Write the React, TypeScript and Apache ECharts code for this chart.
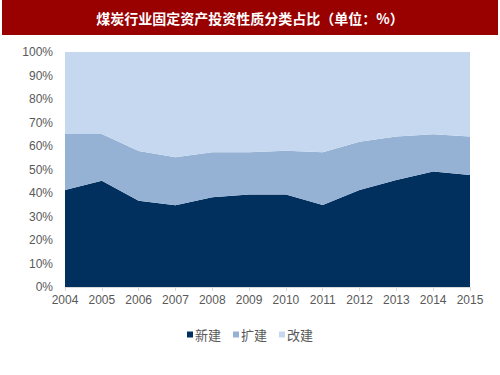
import React, { useEffect, useRef } from "react";
import * as echarts from "echarts";

const years = ["2004", "2005", "2006", "2007", "2008", "2009", "2010", "2011", "2012", "2013", "2014", "2015"];
const newBuild = [41.3, 45.2, 36.7, 34.8, 38.2, 39.4, 39.4, 34.9, 41.3, 45.5, 49.1, 47.7];
const expand = [23.8, 19.9, 21.2, 20.4, 19.1, 17.9, 18.6, 22.4, 20.5, 18.5, 15.9, 16.3];
const rebuild = [34.9, 34.9, 42.1, 44.8, 42.7, 42.7, 42.0, 42.7, 38.2, 36.0, 35.0, 36.0];
const seriesNames = ["新建", "扩建", "改建"];
const colors = ["#01305f", "#95b1d4", "#c6d8ef"];
const titleText = "煤炭行业固定资产投资性质分类占比（单位：%）";

export default function App() {
  const ref = useRef<HTMLDivElement>(null);
  useEffect(() => {
    if (!ref.current) return;
    const chart = echarts.init(ref.current, undefined, { renderer: "svg" });
    const data = [newBuild, expand, rebuild];
    chart.setOption({
      animation: false,
      backgroundColor: "#ffffff",
      color: colors,
      textStyle: { fontFamily: "'Noto Sans CJK SC', 'Liberation Sans', Arial, sans-serif" },
      graphic: [
        {
          type: "rect",
          shape: { x: 2, y: 0, width: 496, height: 35 },
          style: { fill: "#990000" },
          silent: true,
        },
        {
          type: "text",
          x: 250,
          y: 18,
          style: {
            text: titleText,
            fill: "#ffffff",
            fontSize: 14,
            fontWeight: "bold",
            fontFamily: "'Noto Sans CJK SC', sans-serif",
            align: "center",
            verticalAlign: "middle",
          },
          silent: true,
        },
      ],
      grid: { left: 65, right: 30, top: 52, bottom: 88, containLabel: false },
      legend: {
        data: seriesNames,
        bottom: 29,
        left: "center",
        icon: "rect",
        itemWidth: 6,
        itemHeight: 6,
        itemGap: 12,
        textStyle: { color: "#595959", fontSize: 13, padding: [0, 0, 0, -3], fontFamily: "'Noto Sans CJK SC', sans-serif" },
      },
      xAxis: {
        type: "category",
        data: years,
        boundaryGap: false,
        axisLine: { show: true, lineStyle: { color: "#d9d9d9" } },
        axisTick: { show: true, length: 4, lineStyle: { color: "#d9d9d9" } },
        axisLabel: { color: "#595959", fontSize: 12, margin: 7, fontFamily: "'Liberation Sans', Arial, sans-serif" },
      },
      yAxis: {
        type: "value",
        min: 0,
        max: 100,
        interval: 10,
        axisLine: { show: false },
        axisTick: { show: false },
        splitLine: { show: false },
        axisLabel: { color: "#595959", fontSize: 12, margin: 12, formatter: "{value}%", fontFamily: "'Liberation Sans', Arial, sans-serif" },
      },
      series: seriesNames.map((name, i) => ({
        name,
        type: "line",
        stack: "total",
        data: data[i],
        symbol: "none",
        lineStyle: { width: 0 },
        areaStyle: { color: colors[i], opacity: 1 },
        itemStyle: { color: colors[i] },
      })),
    });
    return () => chart.dispose();
  }, []);
  return <div ref={ref} style={{ position: "fixed", left: 0, top: 0, width: 500, height: 375 }} />;
}
